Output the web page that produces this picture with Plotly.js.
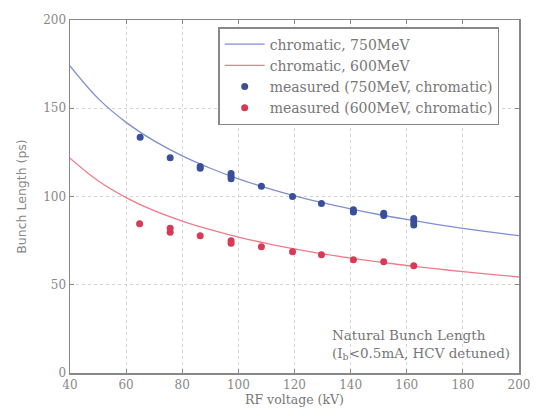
<!DOCTYPE html>
<html><head><meta charset="utf-8">
<script src="https://cdn.plot.ly/plotly-3.0.1.min.js"></script>
<style>body{margin:0;background:#fff}#c{width:538px;height:416px}</style>
</head><body><div id="c"></div>
<script>
const curveV = [40,50,60,70,80,90,100,110,120,130,140,150,160,170,180,190,200];
const curve750 = [174,155.6,142,131.5,123,116,110,104.9,100.4,96.5,93,89.8,87,84.4,82,79.8,77.8];
const curve600 = [121.7,108.9,99.4,92,86.1,81.2,77,73.4,70.3,67.5,65.1,62.9,60.9,59.1,57.4,55.9,54.4];
const meas750V = [65,75.7,86.4,86.4,97.4,97.4,97.4,108.2,119.3,129.6,141,141,151.8,151.8,162.5,162.5,162.5];
const meas750L = [133.5,122,117,116,113,111.5,110,105.8,100,96,92.5,91.2,90.5,89.3,87.5,85.5,83.8];
const meas600V = [64.8,75.7,75.7,86.4,97.4,97.4,108.2,119.3,129.6,141,151.8,162.5];
const meas600L = [84.6,82,79.8,77.8,75,73.5,71.6,68.7,67,64.2,63,60.8];
const names = ['chromatic, 750MeV','chromatic, 600MeV','measured (750MeV, chromatic)','measured (600MeV, chromatic)'];
const data = [
 {x:curveV,y:curve750,mode:'lines',line:{color:'#7f8fd0',width:1.3,shape:'spline'},name:names[0]},
 {x:curveV,y:curve600,mode:'lines',line:{color:'#f07a8a',width:1.3,shape:'spline'},name:names[1]},
 {x:meas750V,y:meas750L,mode:'markers',marker:{color:'#3a4f9a',size:7},name:names[2]},
 {x:meas600V,y:meas600L,mode:'markers',marker:{color:'#d83a55',size:7},name:names[3]}
];
const serif='DejaVu Serif';
const axf={family:serif,size:12,color:'#888'};
const layout={
 width:538,height:416,margin:{l:70,r:19,t:20,b:43},
 paper_bgcolor:'#fff',plot_bgcolor:'#fff',
 font:{family:serif,color:'#777',size:12},
 xaxis:{range:[40,200],dtick:20,tick0:40,showline:true,mirror:'ticks',linecolor:'#888',linewidth:1.5,
   ticks:'inside',ticklen:4,tickcolor:'#888',showgrid:true,gridcolor:'#d4d4d4',griddash:'dot',zeroline:false,
   tickfont:axf,title:{text:'RF voltage (kV)',font:{family:serif,size:12.5,color:'#777'},standoff:4}},
 yaxis:{range:[0,200],dtick:50,showline:true,mirror:'ticks',linecolor:'#888',linewidth:1.5,
   ticks:'inside',ticklen:4,tickcolor:'#888',showgrid:true,gridcolor:'#d4d4d4',griddash:'dot',zeroline:false,
   tickfont:axf,title:{text:'Bunch Length (ps)',font:{family:'DejaVu Sans',size:12.5,color:'#888'},standoff:14}},
 legend:{x:0.33,xanchor:'left',y:0.98,yanchor:'top',bgcolor:'#fff',bordercolor:'#888',borderwidth:1.5,
   font:{family:serif,size:14,color:'#777'},tracegroupgap:0,itemwidth:40},
 showlegend:true,
 annotations:[{xref:'paper',yref:'paper',x:0.985,y:0.025,xanchor:'right',yanchor:'bottom',align:'left',showarrow:false,
   text:'Natural Bunch Length<br>(I<sub>b</sub><0.5mA, HCV detuned)',font:{family:serif,size:13.5,color:'#777'}}]
};
Plotly.newPlot('c',data,layout,{displayModeBar:false,staticPlot:true});
</script></body></html>
